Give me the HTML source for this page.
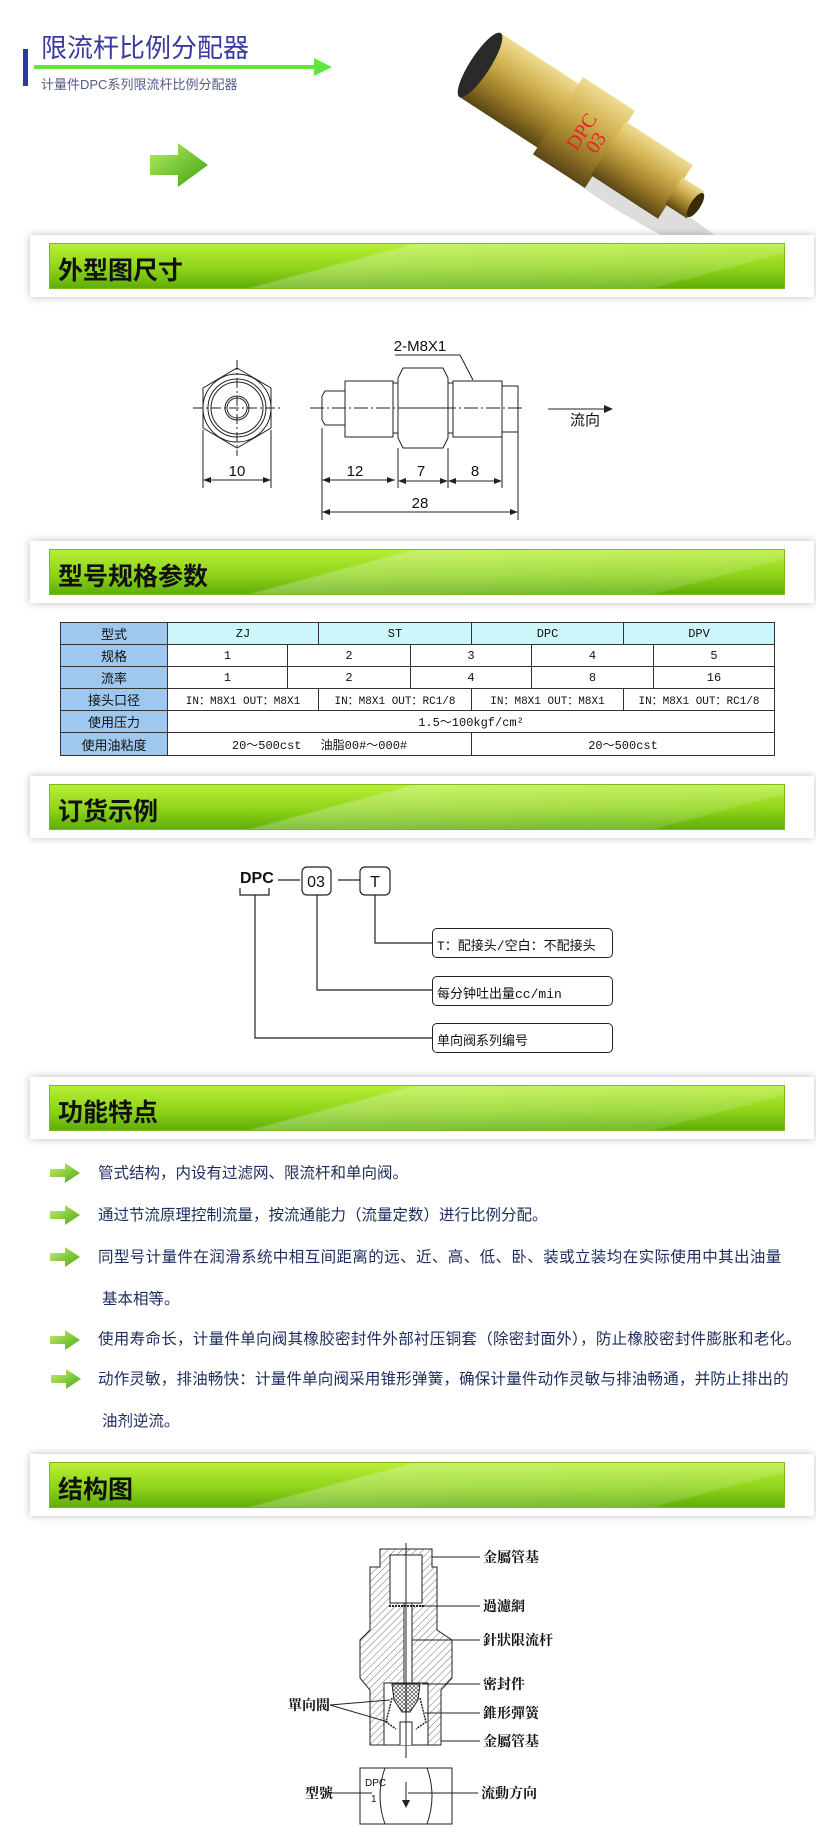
<!DOCTYPE html>
<html><head><meta charset="utf-8"><style>
*{margin:0;padding:0;box-sizing:border-box}
body{width:816px;height:1844px;background:#fff;position:relative;overflow:hidden;font-family:"Liberation Sans","Noto Sans CJK SC",sans-serif}
.abs{position:absolute}
.panel{position:absolute;left:30px;width:784px;height:62px;background:#fff;box-shadow:0 0 8px rgba(0,0,0,0.25)}
.bar{position:absolute;left:19px;top:8px;width:736px;height:46px;background:linear-gradient(165deg,rgba(255,255,255,0) 40%,rgba(255,255,255,0.25) 41%,rgba(255,255,255,0.15) 85%,rgba(0,0,0,0) 86%),linear-gradient(180deg,#b8ee38 0%,#8fd41a 55%,#5fae08 100%);border:1px solid #7cbc20}
.bar span{position:absolute;left:8px;top:7px;font-size:25px;font-weight:bold;color:#111;font-family:"Liberation Sans","Noto Sans CJK SC",sans-serif}
.c{position:absolute;border:1px solid #333;margin:-1px 0 0 -1px;display:flex;align-items:center;justify-content:center;font-family:"Liberation Mono","Noto Sans CJK SC",monospace;font-size:12px;color:#111;white-space:nowrap;background:#fff}
.c.h{background:#9ec8f0;font-family:"Liberation Sans","Noto Sans CJK SC",sans-serif;font-size:13px}
.c.t{background:#cdf6fb}
.f{position:absolute;left:98px;font-size:15.5px;color:#1c2d5c;white-space:nowrap;font-family:"Liberation Sans","Noto Sans CJK SC",sans-serif}
.ob{position:absolute;border:1px solid #222;border-radius:5px;background:#fff;font-size:13px;font-family:"Liberation Mono","Noto Sans CJK SC",monospace;padding:6px 0 0 4px;color:#111}
</style></head><body>

<div class="abs" style="left:23px;top:49px;width:5px;height:37px;background:#2a3aa0"></div>
<div class="abs" style="left:41px;top:28px;font-size:26px;color:#3a3aa0;font-family:'Liberation Sans','Noto Sans CJK SC',sans-serif">限流杆比例分配器</div>
<svg class="abs" style="left:34px;top:56px" width="300" height="24"><line x1="0" y1="11" x2="284" y2="11" stroke="#5de83a" stroke-width="4"/><polygon points="280,2 298,11 280,20" fill="#5de83a"/></svg>
<div class="abs" style="left:41px;top:74px;font-size:13px;color:#555a88">计量件DPC系列限流杆比例分配器</div>
<svg class="abs" style="left:148px;top:143px" width="62" height="44"><defs><linearGradient id="ga" x1="0" y1="0" x2="1" y2="1"><stop offset="0" stop-color="#b8f060"/><stop offset="1" stop-color="#3aa010"/></linearGradient></defs><polygon points="2,12 30,12 30,0 60,22 30,44 30,32 2,32" fill="url(#ga)"/></svg>

<svg class="abs" style="left:440px;top:20px" width="320" height="230">
<defs><linearGradient id="br" x1="0" y1="0" x2="0" y2="1"><stop offset="0" stop-color="#f0dc90"/><stop offset="0.35" stop-color="#d0b050"/><stop offset="0.7" stop-color="#9a7a28"/><stop offset="1" stop-color="#5a4616"/></linearGradient></defs>
<ellipse cx="200" cy="185" rx="110" ry="16" fill="#bbb" opacity="0.5" transform="rotate(30 200 185)"/>
<g transform="translate(40,45) rotate(33)">
<rect x="0" y="-38" width="95" height="76" fill="url(#br)"/>
<ellipse cx="0" cy="0" rx="10" ry="38" fill="#2a2a2a"/>
<rect x="93" y="-46" width="62" height="92" fill="url(#br)"/>
<text x="0" y="0" font-size="20" fill="#e8202a" font-family="Liberation Serif,serif" transform="translate(128,20) rotate(-90)">DPC</text>
<text x="0" y="0" font-size="20" fill="#e8202a" font-family="Liberation Serif,serif" transform="translate(146,12) rotate(-90)">03</text>
<rect x="153" y="-32" width="80" height="64" fill="url(#br)"/>
<rect x="231" y="-16" width="26" height="32" fill="url(#br)"/>
<ellipse cx="257" cy="0" rx="5" ry="14" fill="#3a2a08"/>
</g></svg>

<div class="panel" style="top:235px"><div class="bar"><span>外型图尺寸</span></div></div>

<svg class="abs" style="left:0;top:0" width="816" height="540" font-family="Liberation Sans,sans-serif">
<g stroke="#222" fill="none" stroke-width="1">
<polygon points="237,368 271,388 271,428 237,448 203,428 203,388"/>
<circle cx="237" cy="408" r="34"/><circle cx="237" cy="408" r="29"/><circle cx="237" cy="408" r="26"/>
<circle cx="237" cy="408" r="12"/><circle cx="237" cy="408" r="10"/>
<line x1="193" y1="408" x2="281" y2="408" stroke-dasharray="10,3,2,3"/>
<line x1="237" y1="360" x2="237" y2="456" stroke-dasharray="10,3,2,3"/>
<path d="M345,391 L325,391 L322,396 L322,420 L325,425 L345,425"/>
<rect x="345" y="381" width="48" height="56"/>
<path d="M398,378 L403,368 L443,368 L448,378 L448,438 L443,448 L403,448 L398,438 Z"/>
<line x1="398" y1="408" x2="448" y2="408"/>
<line x1="393" y1="383" x2="398" y2="383"/><line x1="393" y1="433" x2="398" y2="433"/>
<rect x="453" y="381" width="49" height="56"/>
<line x1="448" y1="383" x2="453" y2="383"/><line x1="448" y1="433" x2="453" y2="433"/>
<rect x="502" y="386" width="16" height="46"/>
<line x1="310" y1="408" x2="525" y2="408" stroke-dasharray="14,3,2,3"/>
<polyline points="395,355 460,355 473,380"/>
<line x1="548" y1="409" x2="610" y2="409"/>
<line x1="203" y1="430" x2="203" y2="488"/><line x1="271" y1="430" x2="271" y2="488"/>
<line x1="206" y1="480" x2="268" y2="480"/>
<line x1="322" y1="428" x2="322" y2="520"/><line x1="398" y1="448" x2="398" y2="488"/>
<line x1="448" y1="448" x2="448" y2="488"/><line x1="502" y1="437" x2="502" y2="488"/>
<line x1="518" y1="432" x2="518" y2="520"/>
<line x1="325" y1="480" x2="395" y2="480"/><line x1="401" y1="481" x2="445" y2="481"/><line x1="451" y1="481" x2="499" y2="481"/>
<line x1="325" y1="512" x2="515" y2="512"/>
</g>
<g fill="#222">
<polygon points="613,409 604,405 604,413"/>
<polygon points="203,480 211,477 211,483"/><polygon points="271,480 263,477 263,483"/>
<polygon points="322,480 330,477 330,483"/><polygon points="395,480 387,477 387,483"/>
<polygon points="398,481 406,478 406,484"/><polygon points="448,481 440,478 440,484"/>
<polygon points="448,481 456,478 456,484"/><polygon points="502,481 494,478 494,484"/>
<polygon points="322,512 330,509 330,515"/><polygon points="518,512 510,509 510,515"/>
</g>
<g font-size="15" fill="#111" text-anchor="middle">
<text x="420" y="351">2-M8X1</text>
<text x="237" y="476">10</text><text x="355" y="476">12</text><text x="421" y="476">7</text><text x="475" y="476">8</text>
<text x="420" y="508">28</text>
<text x="585" y="425" font-family="Noto Sans CJK SC,sans-serif">流向</text>
</g></svg>

<div class="panel" style="top:541px"><div class="bar"><span>型号规格参数</span></div></div>

<!-- table rows: y 623,645,667,689,711,733,756 -->
<div class="c h" style="left:61px;top:623px;width:108px;height:23px">型式</div>
<div class="c t" style="left:168px;top:623px;width:152px;height:23px">ZJ</div>
<div class="c t" style="left:319px;top:623px;width:154px;height:23px">ST</div>
<div class="c t" style="left:472px;top:623px;width:153px;height:23px">DPC</div>
<div class="c t" style="left:624px;top:623px;width:152px;height:23px">DPV</div>

<div class="c h" style="left:61px;top:645px;width:108px;height:23px">规格</div>
<div class="c" style="left:168px;top:645px;width:121px;height:23px">1</div>
<div class="c" style="left:288px;top:645px;width:124px;height:23px">2</div>
<div class="c" style="left:411px;top:645px;width:122px;height:23px">3</div>
<div class="c" style="left:532px;top:645px;width:123px;height:23px">4</div>
<div class="c" style="left:654px;top:645px;width:122px;height:23px">5</div>

<div class="c h" style="left:61px;top:667px;width:108px;height:23px">流率</div>
<div class="c" style="left:168px;top:667px;width:121px;height:23px">1</div>
<div class="c" style="left:288px;top:667px;width:124px;height:23px">2</div>
<div class="c" style="left:411px;top:667px;width:122px;height:23px">4</div>
<div class="c" style="left:532px;top:667px;width:123px;height:23px">8</div>
<div class="c" style="left:654px;top:667px;width:122px;height:23px">16</div>

<div class="c h" style="left:61px;top:689px;width:108px;height:23px">接头口径</div>
<div class="c" style="left:168px;top:689px;width:152px;height:23px;font-size:11px">IN：M8X1  OUT：M8X1</div>
<div class="c" style="left:319px;top:689px;width:154px;height:23px;font-size:11px">IN：M8X1  OUT：RC1/8</div>
<div class="c" style="left:472px;top:689px;width:153px;height:23px;font-size:11px">IN：M8X1  OUT：M8X1</div>
<div class="c" style="left:624px;top:689px;width:152px;height:23px;font-size:11px">IN：M8X1  OUT：RC1/8</div>

<div class="c h" style="left:61px;top:711px;width:108px;height:23px">使用压力</div>
<div class="c" style="left:168px;top:711px;width:608px;height:23px">1.5～100kgf/cm²</div>

<div class="c h" style="left:61px;top:733px;width:108px;height:24px">使用油粘度</div>
<div class="c" style="left:168px;top:733px;width:305px;height:24px">20～500cst　 油脂00#～000#</div>
<div class="c" style="left:472px;top:733px;width:304px;height:24px">20～500cst</div>

<div class="panel" style="top:776px"><div class="bar"><span>订货示例</span></div></div>

<svg class="abs" style="left:0;top:0" width="816" height="1070">
<g stroke="#222" fill="none" stroke-width="1.2">
<polyline points="240,888 240,895 269,895 269,888"/>
<line x1="278" y1="880" x2="300" y2="880"/><line x1="338" y1="880" x2="360" y2="880"/>
<rect x="302" y="867" width="29" height="28" rx="5"/><rect x="360" y="867" width="30" height="28" rx="5"/>
<polyline points="375,895 375,943 432,943"/>
<polyline points="317,895 317,990 432,990"/>
<polyline points="255,895 255,1038 432,1038"/>
</g>
<g font-family="Liberation Sans,sans-serif" font-size="16" fill="#111">
<text x="240" y="883" font-weight="bold">DPC</text>
<text x="316" y="887" text-anchor="middle">03</text><text x="375" y="887" text-anchor="middle">T</text>
</g></svg>
<div class="ob" style="left:432px;top:928px;width:181px;height:30px">T：配接头/空白：不配接头</div>
<div class="ob" style="left:432px;top:976px;width:181px;height:30px">每分钟吐出量cc/min</div>
<div class="ob" style="left:432px;top:1023px;width:181px;height:30px">单向阀系列编号</div>

<div class="panel" style="top:1077px"><div class="bar"><span>功能特点</span></div></div>

<svg class="abs" style="left:0;top:0" width="90" height="1440">
<defs><linearGradient id="gb" x1="0" y1="0" x2="1" y2="1"><stop offset="0" stop-color="#c8f070"/><stop offset="1" stop-color="#4aa812"/></linearGradient>
<g id="ar"><polygon points="0,6 15,6 15,0 30,10 15,20 15,14 0,14" fill="url(#gb)"/></g></defs>
<use href="#ar" x="50" y="1163"/><use href="#ar" x="50" y="1205"/><use href="#ar" x="50" y="1247"/><use href="#ar" x="50" y="1330"/><use href="#ar" x="51" y="1369"/>
</svg>
<div class="f" style="top:1161px">管式结构，内设有过滤网、限流杆和单向阀。</div>
<div class="f" style="top:1203px">通过节流原理控制流量，按流通能力（流量定数）进行比例分配。</div>
<div class="f" style="top:1245px;letter-spacing:0.4px">同型号计量件在润滑系统中相互间距离的远、近、高、低、卧、装或立装均在实际使用中其出油量</div>
<div class="f" style="top:1287px;left:102px">基本相等。</div>
<div class="f" style="top:1327px;letter-spacing:0.3px">使用寿命长，计量件单向阀其橡胶密封件外部衬压铜套（除密封面外），防止橡胶密封件膨胀和老化。</div>
<div class="f" style="top:1367px;letter-spacing:0.2px">动作灵敏，排油畅快：计量件单向阀采用锥形弹簧，确保计量件动作灵敏与排油畅通，并防止排出的</div>
<div class="f" style="top:1409px;left:102px">油剂逆流。</div>

<div class="panel" style="top:1454px"><div class="bar"><span>结构图</span></div></div>

<svg class="abs" style="left:0;top:0" width="816" height="1844" font-family="Liberation Serif,'Noto Serif CJK SC',serif">
<defs><pattern id="ht" width="5" height="5" patternUnits="userSpaceOnUse" patternTransform="rotate(45)"><line x1="0" y1="0" x2="0" y2="5" stroke="#333" stroke-width="0.7"/></pattern>
<pattern id="xh" width="4" height="4" patternUnits="userSpaceOnUse"><path d="M0,0 L4,4 M4,0 L0,4" stroke="#333" stroke-width="0.6"/></pattern></defs>
<g stroke="#222" stroke-width="1">
<path d="M380,1549 L432,1549 L432,1567 L437,1567 L437,1630 L452,1640 L452,1678 L441,1690 L441,1745 L370,1745 L370,1690 L360,1678 L360,1640 L370,1630 L370,1567 L380,1567 Z" fill="url(#ht)"/>
<rect x="390" y="1555" width="32" height="48" fill="#fff"/>
<rect x="404" y="1603" width="8" height="80" fill="#fff"/>
<path d="M384,1683 L428,1683 L428,1745 L384,1745 Z" fill="#fff"/>
<path d="M392,1684 L420,1684 L418,1700 L410,1712 L402,1712 L394,1700 Z" fill="url(#xh)"/>
<path d="M400,1745 L400,1722 L412,1722 L412,1745" fill="#fff"/>
<path d="M360,1768 L452,1768 L452,1824 L360,1824 Z" fill="#fff"/>
<path d="M385,1768 Q375,1796 385,1824 M427,1768 Q437,1796 427,1824" fill="none"/>
</g>
<g stroke="#222" stroke-width="1" fill="none">
<line x1="389" y1="1606" x2="424" y2="1606" stroke-dasharray="2,1" stroke-width="2"/>
<path d="M392,1698 L386,1722 L396,1729 M420,1698 L426,1722 L416,1729" stroke-dasharray="2,1" stroke-width="1.5"/>
<line x1="406" y1="1543" x2="406" y2="1758"/>
<line x1="432" y1="1557" x2="480" y2="1557"/><line x1="420" y1="1606" x2="480" y2="1606"/>
<line x1="412" y1="1640" x2="480" y2="1640"/><line x1="422" y1="1684" x2="480" y2="1684"/>
<line x1="425" y1="1713" x2="480" y2="1713"/><line x1="441" y1="1741" x2="480" y2="1741"/>
<path d="M330,1705 L390,1700 M330,1705 L388,1722"/>
<line x1="325" y1="1793" x2="372" y2="1793"/><line x1="408" y1="1793" x2="478" y2="1793"/>
<line x1="406" y1="1782" x2="406" y2="1802"/>
</g>
<polygon points="402,1800 410,1800 406,1808" fill="#222"/>
<g font-size="14" font-weight="bold" fill="#111">
<text x="483" y="1562">金屬管基</text><text x="483" y="1611">過濾網</text><text x="483" y="1645">針狀限流杆</text>
<text x="483" y="1689">密封件</text><text x="483" y="1718">錐形彈簧</text><text x="483" y="1746">金屬管基</text>
<text x="288" y="1710">單向閥</text><text x="305" y="1798">型號</text><text x="481" y="1798">流動方向</text>
</g>
<g font-family="Liberation Sans,sans-serif" font-size="10" fill="#111"><text x="365" y="1786">DPC</text><text x="371" y="1802">1</text></g>
</svg>
</body></html>
